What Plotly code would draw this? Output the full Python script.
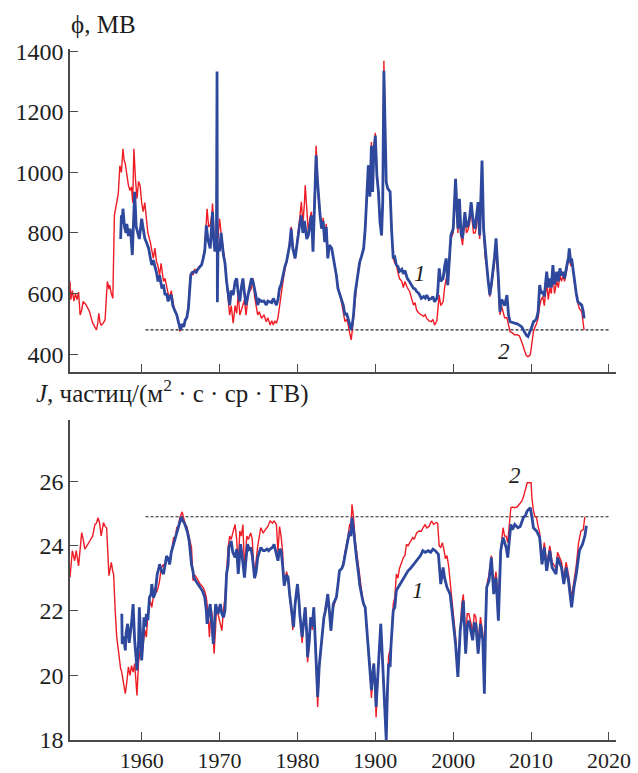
import plotly.graph_objects as go
from plotly.subplots import make_subplots

# ---------------- data ----------------
# Curve 2 (red): modulation potential phi, MV
red_phi_years = [1950.8,1950.9,1951.1,1951.3,1951.5,1951.7,1951.9,1952.1,1952.3,1952.5,1952.9,1953.3,1953.7,1954.0,1954.2,1954.35,1954.5,1954.65,1954.8,1955.0,
 1955.3,1955.5,1955.6,1955.8,1955.9,1956.1,1956.3,1956.5,1956.8,1957.0,1957.2,1957.4,1957.6,1957.75,1957.9,1958.1,1958.3,1958.5,1958.7,1958.85,
 1959.0,1959.2,1959.4,1959.6,1959.8,1960.0,1960.2,1960.4,1960.6,1960.8,1961.1,1961.3,1961.5,1961.7,1961.9,1962.1,1962.3,1962.5,1962.8,1963.0,
 1963.2,1963.4,1963.6,1963.8,1964.1,1964.3,1964.5,1964.7,1964.9,1965.1,1965.3,1965.6,1965.8,1966.0,1966.2,1966.4,1966.6,1966.8,1967.1,1967.4,
 1967.7,1967.9,1968.1,1968.4,1968.6,1968.8,1969.0,1969.1,1969.25,1969.4,1969.55,1969.7,1969.85,1970.0,1970.2,1970.5,1970.7,1970.9,1971.1,1971.3,
 1971.5,1971.75,1972.0,1972.2,1972.4,1972.6,1972.8,1973.0,1973.2,1973.4,1973.7,1974.1,1974.3,1974.5,1974.7,1974.9,1975.1,1975.4,1975.7,1976.0,
 1976.2,1976.5,1976.7,1976.9,1977.1,1977.3,1977.5,1977.7,1977.9,1978.2,1978.4,1978.6,1978.8,1979.0,1979.2,1979.4,1979.7,1979.9,1980.1,1980.3,
 1980.5,1980.7,1980.9,1981.0,1981.2,1981.4,1981.6,1981.8,1982.0,1982.2,1982.4,1982.55,1982.7,1982.9,1983.1,1983.3,1983.5,1983.7,1983.9,1984.1,
 1984.4,1984.6,1984.8,1985.0,1985.2,1985.4,1985.7,1985.9,1986.1,1986.3,1986.5,1986.7,1986.9,1987.05,1987.2,1987.4,1987.6,1987.8,1988.0,1988.2,
 1988.5,1988.7,1988.9,1989.1,1989.3,1989.5,1989.65,1989.8,1990.0,1990.2,1990.4,1990.6,1990.8,1990.95,1991.1,1991.25,1991.4,1991.6,1991.9,1992.1,
 1992.3,1992.5,1992.7,1992.9,1993.1,1993.4,1993.6,1993.8,1994.1,1994.4,1994.7,1994.9,1995.1,1995.3,1995.6,1995.9,1996.2,1996.4,1996.6,1996.9,
 1997.2,1997.4,1997.6,1997.9,1998.0,1998.2,1998.4,1998.7,1998.9,1999.1,1999.3,1999.5,1999.7,2000.0,2000.3,2000.6,2000.8,2001.0,2001.2,2001.5,
 2001.7,2001.9,2002.1,2002.3,2002.6,2002.8,2003.0,2003.2,2003.4,2003.7,2003.9,2004.1,2004.3,2004.5,2004.7,2004.9,2005.1,2005.3,2005.5,2005.7,
 2005.8,2006.0,2006.2,2006.4,2006.6,2006.9,2007.1,2007.3,2007.6,2007.9,2008.2,2008.5,2008.8,2009.0,2009.2,2009.4,2009.6,2009.9,2010.1,2010.3,
 2010.5,2010.7,2010.9,2011.1,2011.3,2011.5,2011.7,2012.0,2012.2,2012.4,2012.6,2012.8,2013.0,2013.3,2013.5,2013.7,2013.9,2014.1,2014.3,2014.6,
 2014.8,2014.9,2015.1,2015.3,2015.6,2016.0,2016.2,2016.5,2016.7,2016.8]
red_phi = [640,580,610,575,600,580,605,529,545,574,561,541,503,490,480,500,535,505,496,500,
 513,600,640,615,628,600,584,858,907,930,1022,1000,1078,1040,1028,990,957,940,952,900,
 1078,980,913,970,957,900,870,900,858,800,771,740,716,750,706,690,661,700,640,650,
 617,600,584,610,562,540,529,510,475,490,496,510,529,560,650,670,661,680,677,690,
 694,720,749,880,820,825,860,897,800,739,760,750,800,847,800,749,700,640,580,529,
 560,502,560,535,600,529,545,562,580,529,600,617,650,590,560,529,540,518,530,507,
 520,496,510,496,510,502,520,562,600,650,680,705,730,770,820,760,716,760,800,850,
 903,830,900,957,880,800,850,870,760,950,1088,1000,913,870,814,850,770,830,720,760,
 749,720,694,660,617,600,565,540,507,515,500,470,447,480,520,580,630,680,705,720,
 749,814,900,1023,920,1100,950,1080,1130,1000,936,840,792,900,1368,1100,968,946,936,804,
 716,700,694,670,650,640,620,640,620,607,580,562,570,545,535,529,525,530,518,510,
 507,515,496,510,545,595,560,573,620,650,628,700,780,800,960,800,900,790,760,850,
 800,810,830,880,800,800,820,880,780,1000,800,720,690,640,590,620,660,700,760,640,
 620,530,560,540,520,520,490,474,470,463,465,460,440,420,409,395,392,398,430,474,
 490,500,520,560,580,590,560,640,580,620,600,680,600,640,620,660,640,660,640,680,
 710,740,690,700,630,570,550,540,500,480]

# Curve 1 (blue): modulation potential phi, MV
blue_phi_years = [1957.3,1957.4,1957.5,1957.6,1957.8,1958.0,1958.1,1958.3,1958.5,1958.6,1958.8,1958.95,1959.1,1959.3,1959.5,1959.7,1960.0,1960.2,1960.4,1960.6,
 1960.9,1961.1,1961.3,1961.5,1961.7,1961.9,1962.1,1962.3,1962.6,1962.8,1963.0,1963.2,1963.4,1963.6,1963.8,1964.0,1964.3,1964.5,1964.7,1964.85,
 1965.0,1965.2,1965.4,1965.6,1965.8,1966.0,1966.2,1966.3,1966.5,1966.8,1967.0,1967.2,1967.5,1967.7,1967.9,1968.1,1968.3,1968.5,1968.8,1969.0,
 1969.1,1969.25,1969.4,1969.6,1969.68,1969.72,1969.8,1970.0,1970.2,1970.5,1970.7,1970.9,1971.1,1971.3,1971.5,1971.75,1972.0,1972.2,1972.4,1972.6,
 1972.8,1973.0,1973.2,1973.4,1973.7,1974.1,1974.3,1974.5,1974.7,1974.9,1975.1,1975.4,1975.7,1976.0,1976.2,1976.5,1976.7,1976.9,1977.1,1977.3,
 1977.5,1977.7,1977.9,1978.2,1978.4,1978.6,1978.8,1979.0,1979.2,1979.4,1979.7,1979.9,1980.1,1980.3,1980.5,1980.7,1980.9,1981.0,1981.2,1981.4,
 1981.6,1981.8,1982.0,1982.2,1982.4,1982.55,1982.7,1982.9,1983.1,1983.3,1983.5,1983.7,1983.9,1984.1,1984.4,1984.6,1984.8,1985.0,1985.2,1985.4,
 1985.7,1985.9,1986.1,1986.3,1986.5,1986.7,1986.9,1987.05,1987.2,1987.4,1987.6,1987.8,1988.0,1988.2,1988.5,1988.7,1988.9,1989.1,1989.3,1989.5,
 1989.65,1989.8,1990.0,1990.2,1990.4,1990.6,1990.8,1990.95,1991.1,1991.25,1991.4,1991.6,1991.9,1992.1,1992.3,1992.5,1992.7,1992.9,1993.1,1993.4,
 1993.6,1993.8,1994.1,1994.4,1994.7,1994.9,1995.1,1995.3,1995.6,1995.9,1996.2,1996.4,1996.6,1996.9,1997.2,1997.4,1997.6,1997.9,1998.0,1998.2,
 1998.4,1998.7,1998.9,1999.1,1999.3,1999.5,1999.7,2000.0,2000.3,2000.6,2000.8,2001.0,2001.2,2001.5,2001.7,2001.9,2002.1,2002.3,2002.6,2002.8,
 2003.0,2003.2,2003.4,2003.7,2003.9,2004.1,2004.3,2004.5,2004.7,2004.9,2005.1,2005.3,2005.5,2005.7,2005.8,2006.0,2006.2,2006.4,2006.6,2006.9,
 2007.1,2007.3,2007.6,2007.9,2008.2,2008.5,2008.8,2009.0,2009.2,2009.4,2009.6,2009.9,2010.1,2010.3,2010.5,2010.7,2010.9,2011.1,2011.3,2011.5,
 2011.7,2012.0,2012.2,2012.4,2012.6,2012.8,2013.0,2013.3,2013.5,2013.7,2013.9,2014.1,2014.3,2014.6,2014.8,2014.9,2015.1,2015.2,2015.4,2015.6,
 2015.8,2016.0,2016.3,2016.5,2016.7,2016.8]
blue_phi = [780,858,830,880,820,800,830,790,814,800,727,850,936,820,804,780,847,810,782,770,
 749,720,694,710,694,670,640,660,617,630,595,600,574,590,595,560,541,530,508,495,
 480,500,490,513,520,551,640,661,670,673,670,680,689,695,716,740,825,780,749,830,
 870,780,739,760,1333,571,760,739,800,727,700,640,590,562,610,595,640,650,600,574,
 620,650,600,562,600,650,640,617,590,562,580,574,575,562,575,573,570,584,570,562,
 580,617,630,672,690,705,730,760,814,750,716,760,792,830,858,800,840,825,780,792,
 820,858,738,900,1056,980,913,860,814,840,770,820,716,760,749,720,694,660,617,600,
 574,560,529,535,518,500,480,500,529,600,640,680,705,720,749,814,903,1023,920,1088,
 935,1060,1121,990,936,836,792,900,1335,1080,968,946,936,804,716,720,694,690,673,680,
 665,676,650,639,625,617,615,607,600,584,590,585,595,580,584,590,573,584,600,683,
 640,650,690,716,628,720,792,814,979,814,913,800,782,869,820,825,850,902,830,814,
 850,902,792,1039,814,740,694,640,595,630,672,720,782,660,650,540,580,573,560,595,
 530,507,505,502,500,496,490,480,469,462,458,474,490,507,510,518,540,628,600,607,
 590,672,620,650,620,694,630,672,640,683,660,672,650,694,720,749,700,716,670,639,
 600,573,565,562,540,518]

# Curve 2 (red): intensity J
red_j_years = [1950.8,1951.0,1951.1,1951.4,1951.6,1951.9,1952.1,1952.3,1952.5,1952.7,1953.1,1953.5,1953.7,1954.0,1954.2,1954.4,1954.6,1954.8,1955.1,1955.3,
 1955.5,1955.8,1956.0,1956.1,1956.3,1956.4,1956.6,1956.8,1957.0,1957.1,1957.3,1957.4,1957.6,1957.9,1958.1,1958.3,1958.5,1958.7,1958.9,1959.1,
 1959.4,1959.6,1959.8,1960.0,1960.2,1960.4,1960.6,1960.8,1961.1,1961.3,1961.5,1961.7,1961.9,1962.1,1962.3,1962.5,1962.8,1963.0,1963.2,1963.4,
 1963.6,1963.8,1964.1,1964.3,1964.5,1964.7,1964.9,1965.2,1965.4,1965.6,1965.8,1966.0,1966.2,1966.4,1966.6,1966.8,1967.1,1967.3,1967.5,1967.9,
 1968.1,1968.3,1968.5,1968.7,1968.85,1969.0,1969.3,1969.5,1969.6,1969.8,1970.0,1970.3,1970.5,1970.7,1970.9,1971.1,1971.3,1971.5,1971.7,1972.0,
 1972.2,1972.4,1972.6,1972.8,1973.0,1973.2,1973.5,1973.7,1974.0,1974.2,1974.4,1974.5,1974.9,1975.1,1975.3,1975.6,1975.9,1976.2,1976.5,1976.8,
 1977.0,1977.3,1977.5,1977.7,1977.9,1978.1,1978.3,1978.6,1978.8,1979.0,1979.2,1979.4,1979.6,1979.8,1980.0,1980.2,1980.4,1980.6,1980.8,1981.0,
 1981.2,1981.3,1981.5,1981.7,1981.9,1982.1,1982.3,1982.6,1982.8,1983.0,1983.2,1983.4,1983.6,1983.9,1984.1,1984.3,1984.5,1984.7,1985.0,1985.2,
 1985.4,1985.7,1985.9,1986.1,1986.3,1986.5,1986.7,1986.9,1987.0,1987.2,1987.4,1987.6,1987.8,1988.0,1988.3,1988.5,1988.7,1988.9,1989.1,1989.3,
 1989.5,1989.7,1989.8,1990.0,1990.1,1990.3,1990.4,1990.7,1990.9,1991.1,1991.3,1991.4,1991.6,1991.7,1992.0,1992.2,1992.3,1992.5,1992.7,1992.9,
 1993.1,1993.4,1993.6,1993.8,1994.0,1994.2,1994.5,1994.8,1995.0,1995.3,1995.6,1995.9,1996.1,1996.4,1996.6,1996.9,1997.2,1997.5,1997.8,1998.0,
 1998.2,1998.4,1998.6,1998.8,1999.0,1999.2,1999.4,1999.6,1999.8,2000.0,2000.3,2000.6,2000.9,2001.1,2001.3,2001.6,2001.8,2002.0,2002.3,2002.5,
 2002.7,2002.9,2003.2,2003.5,2003.8,2004.0,2004.2,2004.4,2004.6,2004.9,2005.2,2005.5,2005.8,2006.0,2006.2,2006.4,2006.6,2006.8,2007.0,2007.2,
 2007.4,2007.6,2007.9,2008.2,2008.5,2008.8,2009.0,2009.3,2009.5,2009.8,2010.0,2010.1,2010.3,2010.5,2010.7,2010.9,2011.1,2011.4,2011.7,2012.0,
 2012.4,2012.7,2013.2,2013.4,2013.9,2014.2,2014.5,2014.8,2015.2,2015.5,2015.8,2016.1,2016.4,2016.7,2016.9]
red_j = [23.02,23.5,23.85,23.54,23.85,23.38,24.0,24.41,24.2,23.9,24.05,24.2,24.3,24.66,24.7,24.87,24.7,24.31,24.72,24.6,
 24.56,23.08,23.3,23.49,23.2,23.13,22.0,21.18,20.8,20.56,20.2,20.15,19.8,19.43,19.8,20.26,20.0,20.3,20.1,20.36,
 19.38,20.4,20.77,20.5,20.97,21.4,21.18,21.9,22.31,22.1,22.41,22.7,22.56,22.7,22.92,23.3,23.43,23.3,23.64,23.6,
 23.43,23.8,24.26,24.2,24.56,24.6,24.87,25.05,24.8,24.66,24.6,24.36,24.2,23.95,22.92,23.1,23.0,22.9,22.82,22.72,
 22.6,22.41,22.0,21.18,21.8,22.0,20.67,21.5,22.1,21.9,21.69,21.38,22.0,22.41,23.2,23.95,24.3,24.2,24.4,24.66,
 24.2,23.4,24.46,24.3,24.66,23.3,24.3,24.2,24.4,24.2,23.3,23.1,24.0,24.3,24.56,24.4,24.5,24.6,24.77,24.7,
 24.77,24.66,23.8,24.6,24.3,23.8,22.77,23.2,23.02,22.4,22.1,21.4,22.0,22.4,22.82,22.3,21.7,21.0,21.6,22.1,
 21.2,20.4,20.9,21.79,21.4,22.1,21.0,19.02,20.2,20.77,21.3,21.79,22.1,22.51,22.0,21.38,22.0,22.2,22.41,22.8,
 23.23,23.3,23.5,23.8,24.0,24.3,24.66,24.7,25.28,24.9,24.2,23.8,23.4,23.0,22.5,22.2,22.1,21.4,20.87,20.2,
 19.3,20.0,20.36,19.4,18.7,19.8,20.36,21.59,20.5,19.54,18.6,18.2,19.6,20.6,20.87,21.8,22.2,22.4,23.13,23.0,
 23.3,23.5,23.64,23.7,24.05,24.0,24.15,24.26,24.2,24.4,24.46,24.45,24.55,24.66,24.55,24.6,24.77,24.66,24.72,24.7,
 24.0,23.95,24.1,23.9,23.6,23.7,23.4,22.9,22.3,21.9,21.2,20.2,21.6,22.2,22.5,21.0,21.9,21.9,21.6,21.3,
 21.9,21.8,21.0,21.8,21.3,19.6,22.3,22.9,23.1,23.7,22.8,23.2,22.0,23.5,24.1,24.56,24.3,24.3,24.1,24.8,
 25.18,25.2,25.18,25.2,25.3,25.38,25.5,25.8,25.95,25.95,25.95,25.5,25.08,24.9,24.87,24.6,24.4,23.6,24.1,23.4,
 24.0,23.5,23.3,23.8,23.5,23.0,23.5,23.1,22.4,22.9,23.4,24.1,24.46,24.5,24.9]

# Curve 1 (blue): intensity J
blue_j_years = [1957.45,1957.5,1957.7,1957.9,1958.0,1958.2,1958.4,1958.5,1958.7,1958.9,1959.0,1959.1,1959.3,1959.4,1959.6,1959.7,1959.85,1960.0,1960.2,1960.3,
 1960.5,1960.6,1960.8,1961.0,1961.2,1961.3,1961.5,1961.7,1961.9,1962.0,1962.2,1962.3,1962.6,1962.8,1963.0,1963.2,1963.4,1963.6,1963.8,1964.1,
 1964.3,1964.5,1964.7,1964.9,1965.1,1965.3,1965.5,1965.7,1965.9,1966.1,1966.4,1966.6,1966.7,1967.0,1967.2,1967.5,1967.8,1968.1,1968.3,1968.4,
 1968.6,1968.8,1969.0,1969.2,1969.35,1969.5,1969.8,1970.1,1970.3,1970.5,1970.7,1970.9,1971.1,1971.2,1971.5,1971.7,1972.0,1972.2,1972.4,1972.7,
 1972.9,1973.2,1973.4,1973.6,1973.8,1974.0,1974.2,1974.5,1974.7,1974.9,1975.1,1975.3,1975.6,1975.8,1976.1,1976.3,1976.5,1976.8,1977.0,1977.3,
 1977.5,1977.7,1977.9,1978.1,1978.3,1978.6,1978.8,1979.0,1979.2,1979.5,1979.7,1980.0,1980.2,1980.3,1980.6,1980.8,1981.0,1981.2,1981.3,1981.5,
 1981.7,1981.9,1982.1,1982.3,1982.6,1982.8,1983.0,1983.2,1983.4,1983.6,1983.9,1984.1,1984.3,1984.6,1984.8,1985.0,1985.2,1985.4,1985.7,1985.9,
 1986.1,1986.3,1986.5,1986.7,1986.85,1987.0,1987.2,1987.4,1987.6,1987.8,1988.0,1988.3,1988.5,1988.7,1988.9,1989.1,1989.3,1989.5,1989.65,1989.8,
 1990.0,1990.1,1990.3,1990.4,1990.7,1990.9,1991.1,1991.25,1991.4,1991.55,1991.7,1991.9,1992.0,1992.3,1992.5,1992.7,1992.9,1993.1,1993.4,1993.6,
 1993.9,1994.2,1994.5,1994.9,1995.2,1995.5,1995.8,1996.1,1996.4,1996.8,1997.1,1997.4,1997.7,1998.1,1998.2,1998.4,1998.7,1998.9,1999.2,1999.4,
 1999.6,1999.8,2000.0,2000.3,2000.6,2000.9,2001.1,2001.3,2001.6,2001.8,2002.0,2002.3,2002.5,2002.7,2002.9,2003.2,2003.5,2003.8,2004.0,2004.15,
 2004.3,2004.6,2004.9,2005.2,2005.5,2005.8,2006.1,2006.4,2006.8,2007.0,2007.4,2007.6,2007.9,2008.3,2008.6,2009.0,2009.3,2009.5,2009.9,2010.1,
 2010.3,2010.7,2011.1,2011.4,2011.7,2012.0,2012.4,2012.7,2013.2,2013.4,2013.9,2014.2,2014.5,2014.8,2015.2,2015.5,2015.8,2016.2,2016.6,2016.9,
 2017.1]
blue_j = [21.9,20.97,21.2,20.77,21.3,21.59,21.0,21.18,21.6,22.2,21.5,21.08,20.5,20.15,21.0,22.1,21.3,20.46,21.2,21.79,
 21.5,21.9,21.7,22.41,22.5,22.82,22.4,22.51,22.9,23.13,23.3,23.43,23.2,23.13,23.4,23.69,23.6,23.43,23.8,24.05,
 24.2,24.36,24.5,24.72,24.9,24.77,24.7,24.56,24.4,24.15,23.43,23.2,23.02,22.9,22.82,22.7,22.61,22.41,22.0,21.59,
 21.9,22.2,21.6,20.97,21.6,22.2,21.9,22.2,21.9,21.79,22.0,23.13,23.43,23.95,24.15,23.8,23.64,23.9,23.13,24.05,
 23.7,23.02,23.6,24.05,23.9,23.95,23.7,23.0,23.2,23.64,23.8,23.95,23.85,23.85,23.9,23.85,23.9,23.95,24.05,23.7,
 23.54,23.9,23.85,23.4,22.77,23.1,23.02,22.5,22.1,21.49,22.2,22.82,22.3,21.9,21.18,21.7,22.1,21.3,20.56,21.0,
 21.79,21.5,22.1,21.0,19.33,20.3,20.77,21.3,21.79,22.0,22.51,22.0,21.38,22.2,22.3,22.41,22.8,23.23,23.3,23.43,
 23.7,23.95,24.2,24.46,24.3,24.87,24.5,23.95,23.6,23.23,22.8,22.41,22.2,22.1,21.5,20.87,20.3,19.54,20.0,20.36,
 19.6,19.02,19.9,20.36,21.59,20.6,19.54,18.8,18.0,19.5,20.36,20.26,20.87,22.0,22.1,22.62,22.7,22.82,22.9,23.02,
 23.1,23.23,23.3,23.43,23.5,23.59,23.7,23.85,23.8,23.85,23.8,23.9,23.85,23.74,23.4,22.82,23.33,23.0,22.72,22.6,
 22.51,22.1,21.69,20.97,19.95,21.38,21.8,22.31,20.67,21.5,21.69,21.3,21.08,21.6,21.59,20.67,21.59,21.08,19.43,21.5,
 22.72,22.92,23.64,22.51,23.02,21.69,23.85,24.26,23.95,23.64,24.66,24.5,24.66,24.56,24.6,24.87,24.95,25.08,25.18,24.9,
 24.56,24.46,24.26,23.43,23.95,23.23,23.85,23.33,23.13,23.64,23.33,22.82,23.33,22.92,22.1,22.72,23.13,23.85,24.05,24.3,
 24.62]

# Reference (dashed) levels
ref_years = [1960.5, 2020.1]
ref_phi = [480, 480]
ref_j = [24.9, 24.9]

# Axis ticks
tick_vals = [1960, 1970, 1980, 1990, 2000, 2010, 2020]
tick_text = ["1960", "1970", "1980", "1900", "2000", "2010", "2020"]
phi_ticks = [400, 600, 800, 1000, 1200, 1400]
j_ticks = [18, 20, 22, 24, 26]

# ---------------- figure ----------------
RED = "#ee1c25"
BLUE = "#2d489c"
AX = "#4a4a4a"
FONT = "Liberation Serif"
TXT = "#1e1e1e"

fig = make_subplots(rows=2, cols=1, shared_xaxes=False, vertical_spacing=0.07)

fig.add_trace(go.Scatter(x=ref_years, y=ref_phi, mode="lines",
                         line=dict(color="#222", width=1.1, dash="3px,2px")), row=1, col=1)
fig.add_trace(go.Scatter(x=red_phi_years, y=red_phi, mode="lines",
                         line=dict(color=RED, width=1.4)), row=1, col=1)
fig.add_trace(go.Scatter(x=blue_phi_years, y=blue_phi, mode="lines",
                         line=dict(color=BLUE, width=2.8)), row=1, col=1)

fig.add_trace(go.Scatter(x=ref_years, y=ref_j, mode="lines",
                         line=dict(color="#222", width=1.1, dash="3px,2px")), row=2, col=1)
fig.add_trace(go.Scatter(x=red_j_years, y=red_j, mode="lines",
                         line=dict(color=RED, width=1.4)), row=2, col=1)
fig.add_trace(go.Scatter(x=blue_j_years, y=blue_j, mode="lines",
                         line=dict(color=BLUE, width=2.8)), row=2, col=1)

xcommon = dict(range=[1950.8, 2020.9], showgrid=False, zeroline=False, automargin=False,
               showline=True, linecolor=AX, linewidth=1.5,
               ticks="inside", ticklen=8, tickwidth=1.3, tickcolor=AX,
               tickvals=tick_vals, ticktext=tick_text,
               tickfont=dict(family=FONT, size=22, color=TXT))
fig.update_xaxes(**xcommon)
fig.update_xaxes(showticklabels=False, domain=[0, 1], row=1, col=1)
fig.update_xaxes(domain=[0, 1], row=2, col=1)

ycommon = dict(showgrid=False, zeroline=False, showline=True, linecolor=AX, linewidth=1.5,
               automargin=False, ticks="inside", ticklen=8, tickwidth=1.3, tickcolor=AX,
               tickfont=dict(family=FONT, size=24, color=TXT))
fig.update_yaxes(**ycommon)
fig.update_yaxes(range=[341, 1407], tickvals=phi_ticks, domain=[0.5325, 1.0], row=1, col=1)
fig.update_yaxes(range=[18, 27.9], tickvals=j_ticks, domain=[0.0, 0.4636], row=2, col=1)

ann_font = dict(family=FONT, size=23, color=TXT)
fig.update_layout(
    width=638, height=773,
    margin=dict(l=70, r=22, t=49, b=33),
    paper_bgcolor="white", plot_bgcolor="white",
    showlegend=False,
    font=dict(family=FONT, color=TXT),
    annotations=[
        dict(text="ϕ, МВ", xref="paper", yref="paper", x=-0.002, y=1.035,
             xanchor="left", yanchor="middle", showarrow=False,
             font=dict(family=FONT, size=25, color=TXT)),
        dict(text="<i>J</i>, частиц/(м<sup>2</sup> · с · ср · ГВ)", xref="paper", yref="paper",
             x=-0.066, y=0.505, xanchor="left", yanchor="middle", showarrow=False,
             font=dict(family=FONT, size=25, color=TXT)),
        dict(text="<i>1</i>", x=1995.7, y=666, xref="x", yref="y", showarrow=False, font=ann_font),
        dict(text="<i>2</i>", x=2006.5, y=410, xref="x", yref="y", showarrow=False, font=ann_font),
        dict(text="<i>2</i>", x=2007.9, y=26.16, xref="x2", yref="y2", showarrow=False, font=ann_font),
        dict(text="<i>1</i>", x=1995.5, y=22.62, xref="x2", yref="y2", showarrow=False, font=ann_font),
    ],
)

fig.write_html("out.html", config={"displayModeBar": False},
               post_script="document.body.style.margin='0';document.body.style.padding='0';")
